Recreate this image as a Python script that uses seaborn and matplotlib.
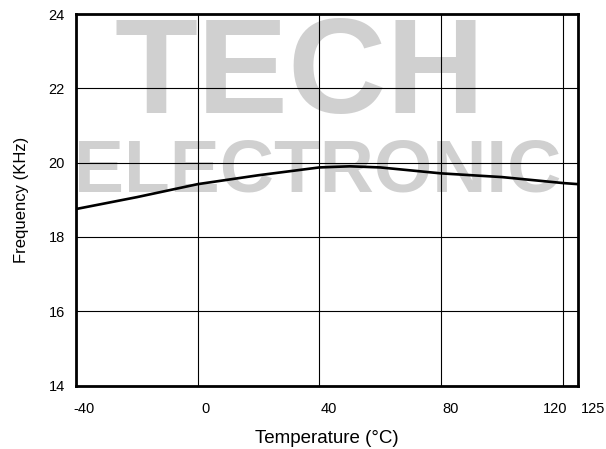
import matplotlib
matplotlib.use("Agg")
import matplotlib.pyplot as plt
import matplotlib.transforms as mtransforms
import seaborn as sns
import pandas as pd

# ---- data ----
temperature_c = [-40, -20, 0, 20, 40, 50, 60, 80, 100, 120, 125]
frequency_khz = [18.75, 19.07, 19.42, 19.66, 19.87, 19.90, 19.87, 19.71, 19.61, 19.45, 19.42]
x_ticks = [-40, 0, 40, 80, 120, 125]
x_tick_labels = ["-40", "0", "40", "80", "120", "125"]
y_ticks = [14, 16, 18, 20, 22, 24]
y_tick_labels = ["14", "16", "18", "20", "22", "24"]
x_label = "Temperature (\u00b0C)"
y_label = "Frequency (KHz)"
watermark_top = "TECH"
watermark_bottom = "ELECTRONIC"

df = pd.DataFrame({"t": temperature_c, "f": frequency_khz})

sns.set_theme(style="white")
plt.rcParams["font.family"] = ["Liberation Sans", "DejaVu Sans"]

W, H = 606, 449
fig = plt.figure(figsize=(W / 100, H / 100), dpi=100, facecolor="white")
ax = fig.add_axes([76 / W, 1 - 385.5 / H, (578 - 76) / W, (385.5 - 14) / H])
ax.patch.set_alpha(0)

# watermark (background, behind grid and curve)
wm_color = "#d0d0d0"
fig.text(300 / W, 1 - 113 / H, watermark_top, fontsize=98, fontweight="bold", color=wm_color,
         ha="center", va="baseline", zorder=-5)
fig.text(318 / W, 1 - 192 / H, watermark_bottom, fontsize=54, fontweight="bold", color=wm_color,
         ha="center", va="baseline", zorder=-5)

sns.lineplot(data=df, x="t", y="f", ax=ax, color="black", linewidth=1.9, zorder=5)

ax.set_xlim(-40, 125)
ax.set_ylim(14, 24)
ax.set_xticks(x_ticks)
ax.set_xticklabels(x_tick_labels)
ax.set_yticks(y_ticks)
ax.set_yticklabels(y_tick_labels)
ax.grid(True, color="black", linewidth=0.8)
for s in ax.spines.values():
    s.set_visible(True)
    s.set_color("black")
    s.set_linewidth(2.0)
ax.tick_params(axis="both", length=0, labelsize=10.5, colors="black")
ax.tick_params(axis="x", pad=12)
ax.tick_params(axis="y", pad=8)

# shift x tick labels like the reference
offsets_px = [8, 8, 9, 9, -8, 15]
for lab, dx in zip(ax.get_xticklabels(), offsets_px):
    lab.set_transform(lab.get_transform() + mtransforms.ScaledTranslation(dx / 100, 0, fig.dpi_scale_trans))

ax.set_xlabel(x_label, fontsize=13.5, color="black", labelpad=10)
ax.set_ylabel(y_label, fontsize=12, color="black", labelpad=14)

fig.savefig("out.png", dpi=100, facecolor="white")
